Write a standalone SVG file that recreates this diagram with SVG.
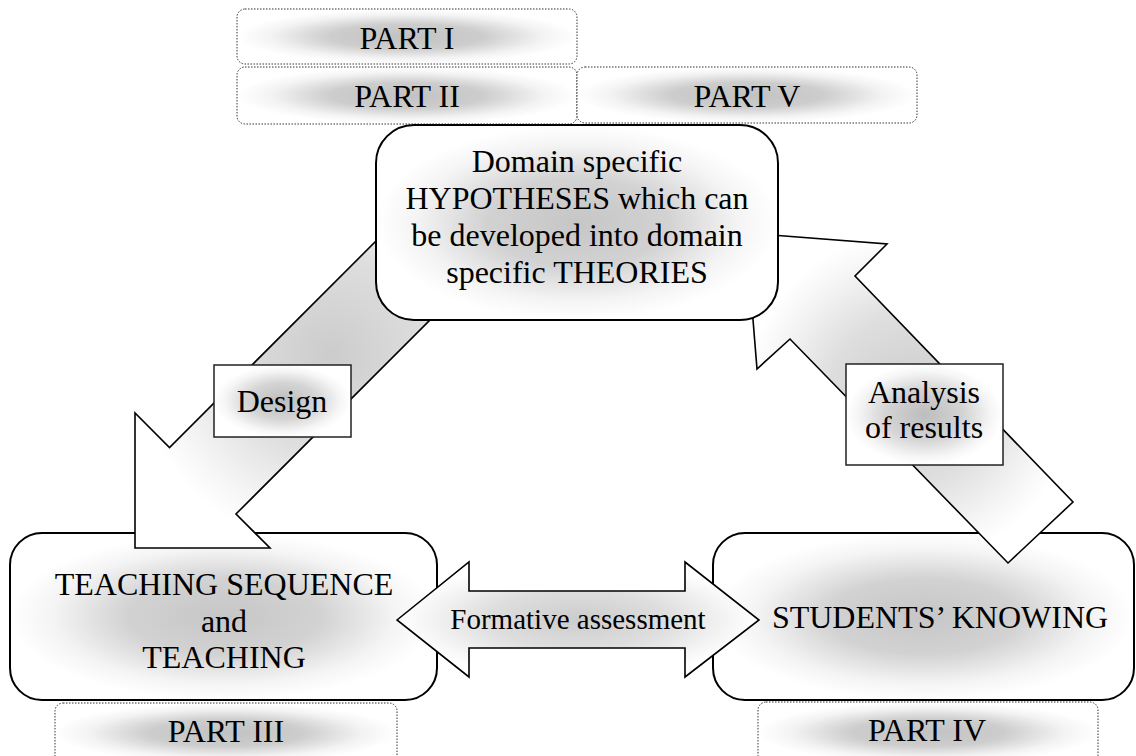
<svg xmlns="http://www.w3.org/2000/svg" width="1136" height="756" viewBox="0 0 1136 756">
  <defs>
    <radialGradient id="gPart" cx="0.5" cy="0.5" r="0.5">
      <stop offset="0" stop-color="#c2c2c2"/>
      <stop offset="0.45" stop-color="#cdcdcd"/>
      <stop offset="0.8" stop-color="#f3f3f3"/>
      <stop offset="1" stop-color="#ffffff"/>
    </radialGradient>
    <radialGradient id="gNode" cx="0.5" cy="0.5" r="0.5">
      <stop offset="0" stop-color="#c6c6c6"/>
      <stop offset="0.45" stop-color="#d2d2d2"/>
      <stop offset="0.8" stop-color="#f4f4f4"/>
      <stop offset="1" stop-color="#ffffff"/>
    </radialGradient>
    <radialGradient id="gArrow" cx="0.5" cy="0.5" r="0.5">
      <stop offset="0" stop-color="#cccccc"/>
      <stop offset="0.5" stop-color="#dedede"/>
      <stop offset="0.85" stop-color="#f6f6f6"/>
      <stop offset="1" stop-color="#ffffff"/>
    </radialGradient>
    <radialGradient id="gLabel" cx="0.5" cy="0.5" r="0.5">
      <stop offset="0" stop-color="#bdbdbd"/>
      <stop offset="0.5" stop-color="#d4d4d4"/>
      <stop offset="0.85" stop-color="#f6f6f6"/>
      <stop offset="1" stop-color="#ffffff"/>
    </radialGradient>
  </defs>
  <style>
    text { font-family: "Liberation Serif", "Times New Roman", serif; font-size: 32px; fill: #000; text-anchor: middle; }
    .part { fill: url(#gPart); stroke: #333; stroke-width: 1; stroke-dasharray: 1.5 1.5; }
    .node { fill: url(#gNode); stroke: #000; stroke-width: 2; }
    .arrow { fill: url(#gArrow); stroke: #000; stroke-width: 1.6; stroke-linejoin: miter; }
    .label { fill: url(#gLabel); stroke: #222; stroke-width: 1.5; }
    .small { font-size: 29px; }
  </style>
  <rect width="1136" height="756" fill="#fff"/>

  <g id="part1"><rect class="part" x="237" y="9" width="340" height="55" rx="8"/><text x="407" y="49">PART I</text></g>
  <g id="part2"><rect class="part" x="237" y="67" width="340" height="57" rx="8"/><text x="407" y="107">PART II</text></g>
  <g id="part5"><rect class="part" x="577" y="67" width="340" height="56" rx="8"/><text x="747" y="107">PART V</text></g>
  <g id="part3"><rect class="part" x="55" y="703" width="342" height="60" rx="8"/><text x="226" y="742">PART III</text></g>
  <g id="part4"><rect class="part" x="758" y="702" width="340" height="61" rx="8"/><text x="927" y="741">PART IV</text></g>

  <g id="teaching">
    <rect class="node" x="10" y="533" width="427" height="167" rx="32"/>
    <text x="224" y="595">TEACHING SEQUENCE</text>
    <text x="224" y="632">and</text>
    <text x="224" y="668">TEACHING</text>
  </g>
  <g id="students">
    <rect class="node" x="713" y="533" width="421" height="167" rx="32"/>
    <text x="940" y="628">STUDENTS’ KNOWING</text>
  </g>

  <g id="connectors">
    <polygon id="design-arrow" class="arrow" points="135,548 270,548 236,514 525,225 458.5,158.5 169.5,447.5 135,413"/>
    <polygon id="analysis-arrow" class="arrow" points="746,233 887,244 855,276 1073,502 1008,563 790,339 757,369"/>
  </g>

  <g id="hypotheses">
    <rect class="node" x="376" y="125" width="402" height="195" rx="38"/>
    <text x="577" y="172">Domain specific</text>
    <text x="577" y="209">HYPOTHESES which can</text>
    <text x="577" y="246">be developed into domain</text>
    <text x="577" y="283">specific THEORIES</text>
  </g>

  <g id="formative">
    <polygon class="arrow" points="397,620 469,562 469,591 685,591 685,562 759,620 685,677 685,648 469,648 469,677"/>
    <text class="small" x="578" y="629">Formative assessment</text>
  </g>

  <g id="design-label">
    <rect class="label" x="214" y="365" width="137" height="72"/>
    <text x="282" y="412">Design</text>
  </g>
  <g id="analysis-label">
    <rect class="label" x="846" y="364" width="157" height="101"/>
    <text x="924" y="403">Analysis</text>
    <text x="924" y="438">of results</text>
  </g>
</svg>
